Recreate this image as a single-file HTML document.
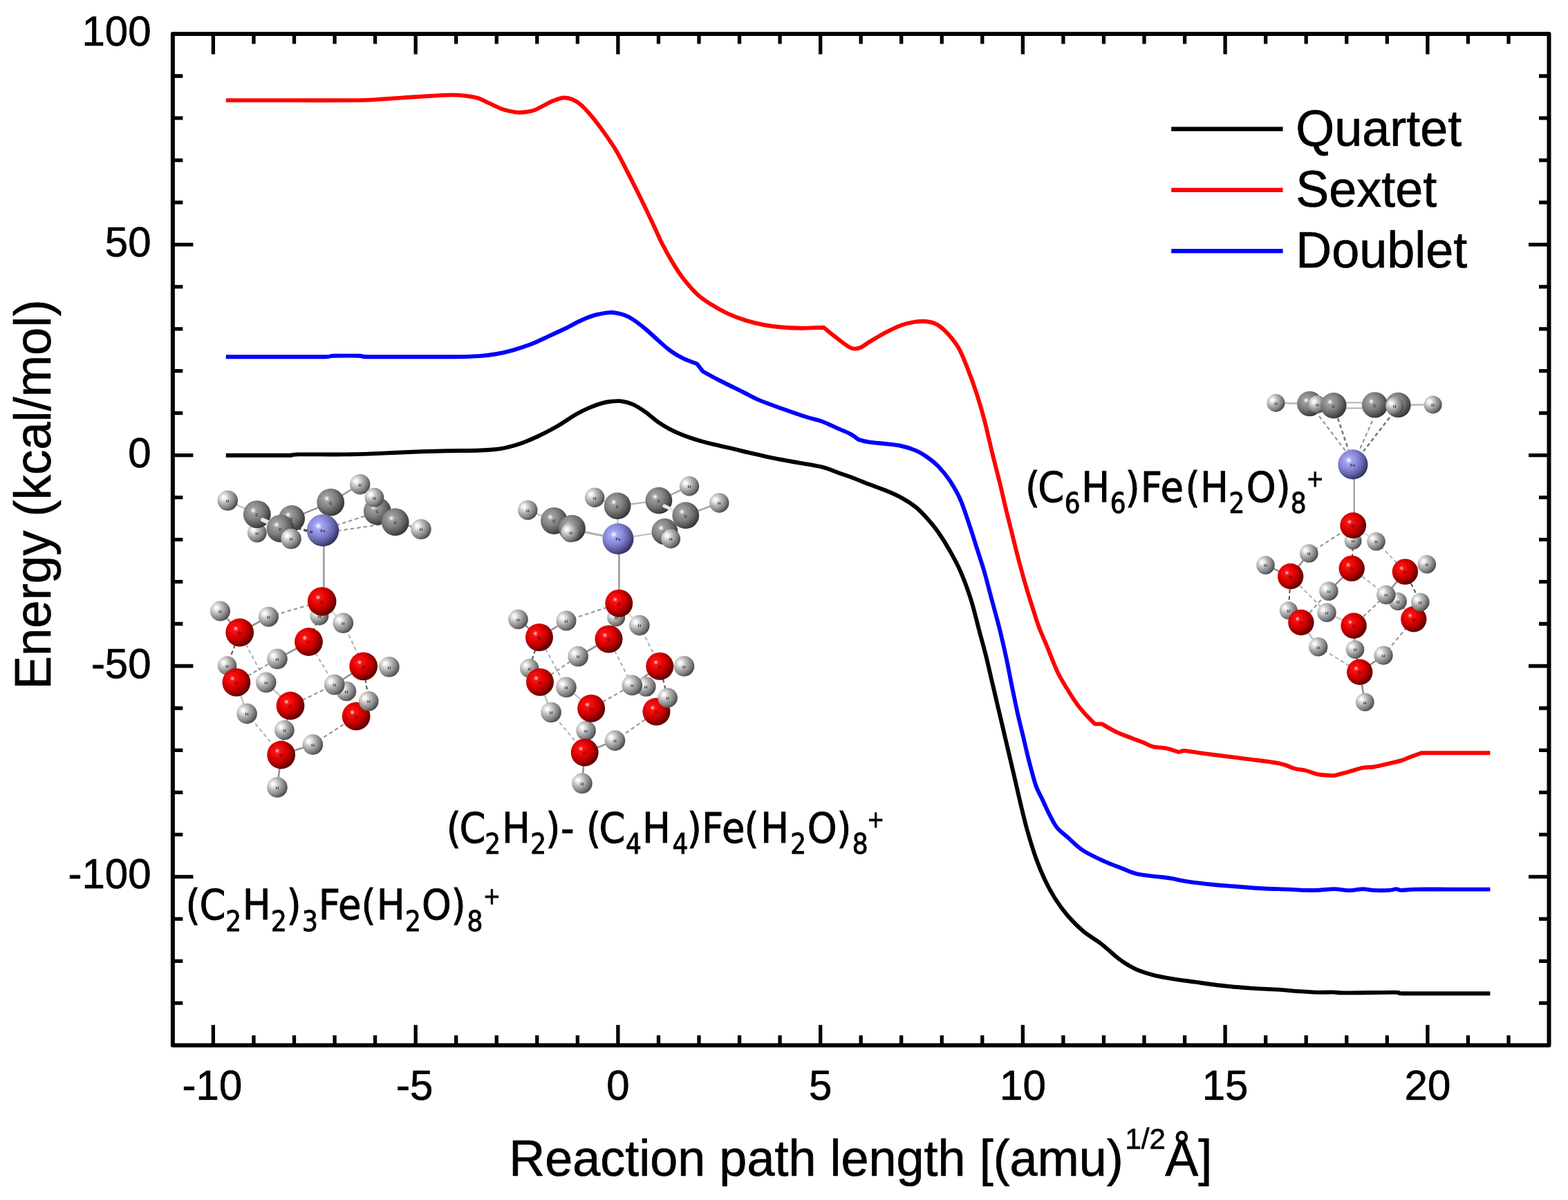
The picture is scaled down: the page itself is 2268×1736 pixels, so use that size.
<!DOCTYPE html>
<html lang="en"><head><meta charset="utf-8"><title>Reaction path energy profile</title>
<style>html,body{margin:0;padding:0;background:#fff}body{width:2268px;height:1736px;overflow:hidden}svg{display:block}text{font-family:"Liberation Sans",sans-serif;fill:#000}.tk,.ti,.lg{stroke:#000;stroke-width:.7px;stroke-linejoin:round}.tk{font-size:60px}.ti{font-size:72px}.lg{font-size:72px}.fm{font-family:"DejaVu Sans Condensed","DejaVu Sans","Liberation Sans",sans-serif}.al{font-size:6.2px;font-weight:bold;fill:#151515;text-anchor:middle;opacity:.85}</style></head><body>
<svg width="2268" height="1736" viewBox="0 0 2268 1736">
<defs>
<radialGradient id="gH" cx="0.31" cy="0.34" r="0.72" fx="0.31" fy="0.34"><stop offset="0" stop-color="#fff"/><stop offset="0.1" stop-color="#f8f8f8"/><stop offset="0.28" stop-color="#d2d2d2"/><stop offset="0.5" stop-color="#a9a9a9"/><stop offset="0.75" stop-color="#808080"/><stop offset="1" stop-color="#4a4a4a"/></radialGradient>
<radialGradient id="gC" cx="0.36" cy="0.36" r="0.75" fx="0.36" fy="0.36"><stop offset="0" stop-color="#fff"/><stop offset="0.06" stop-color="#dcdcdc"/><stop offset="0.14" stop-color="#a0a0a0"/><stop offset="0.42" stop-color="#828282"/><stop offset="0.62" stop-color="#646464"/><stop offset="0.82" stop-color="#424242"/><stop offset="1" stop-color="#202020"/></radialGradient>
<radialGradient id="gO" cx="0.36" cy="0.36" r="0.75" fx="0.36" fy="0.36"><stop offset="0" stop-color="#ffe0e0"/><stop offset="0.05" stop-color="#ff8484"/><stop offset="0.12" stop-color="#f81414"/><stop offset="0.4" stop-color="#e20000"/><stop offset="0.6" stop-color="#b00000"/><stop offset="0.8" stop-color="#780000"/><stop offset="1" stop-color="#3a0000"/></radialGradient>
<radialGradient id="gF" cx="0.36" cy="0.36" r="0.75" fx="0.36" fy="0.36"><stop offset="0" stop-color="#fff"/><stop offset="0.06" stop-color="#dcdcff"/><stop offset="0.14" stop-color="#a6a6f8"/><stop offset="0.42" stop-color="#8686d4"/><stop offset="0.62" stop-color="#6666ae"/><stop offset="0.82" stop-color="#404076"/><stop offset="1" stop-color="#1e1e44"/></radialGradient>
<filter id="soft" x="-5%" y="-5%" width="110%" height="110%"><feGaussianBlur stdDeviation="0.75"/></filter>
</defs>
<rect width="2268" height="1736" fill="#fff"/>
<g id="axes" stroke="#000" stroke-width="6.0" fill="none" stroke-linecap="butt">
<rect x="249.9" y="49" width="1990.6" height="1463.2" stroke-linejoin="round"/>
<path d="M308.4 49v29.5M308.4 1512.2v-29.5M367 49v14.5M367 1512.2v-14.5M425.5 49v14.5M425.5 1512.2v-14.5M484.1 49v14.5M484.1 1512.2v-14.5M542.6 49v14.5M542.6 1512.2v-14.5M601.2 49v29.5M601.2 1512.2v-29.5M659.7 49v14.5M659.7 1512.2v-14.5M718.3 49v14.5M718.3 1512.2v-14.5M776.8 49v14.5M776.8 1512.2v-14.5M835.4 49v14.5M835.4 1512.2v-14.5M893.9 49v29.5M893.9 1512.2v-29.5M952.5 49v14.5M952.5 1512.2v-14.5M1011 49v14.5M1011 1512.2v-14.5M1069.6 49v14.5M1069.6 1512.2v-14.5M1128.1 49v14.5M1128.1 1512.2v-14.5M1186.7 49v29.5M1186.7 1512.2v-29.5M1245.2 49v14.5M1245.2 1512.2v-14.5M1303.7 49v14.5M1303.7 1512.2v-14.5M1362.3 49v14.5M1362.3 1512.2v-14.5M1420.8 49v14.5M1420.8 1512.2v-14.5M1479.4 49v29.5M1479.4 1512.2v-29.5M1537.9 49v14.5M1537.9 1512.2v-14.5M1596.5 49v14.5M1596.5 1512.2v-14.5M1655 49v14.5M1655 1512.2v-14.5M1713.6 49v14.5M1713.6 1512.2v-14.5M1772.1 49v29.5M1772.1 1512.2v-29.5M1830.7 49v14.5M1830.7 1512.2v-14.5M1889.2 49v14.5M1889.2 1512.2v-14.5M1947.8 49v14.5M1947.8 1512.2v-14.5M2006.3 49v14.5M2006.3 1512.2v-14.5M2064.9 49v29.5M2064.9 1512.2v-29.5M2123.4 49v14.5M2123.4 1512.2v-14.5M2182 49v14.5M2182 1512.2v-14.5M249.9 1451.2h14.5M2240.5 1451.2h-14.5M249.9 1390.3h14.5M2240.5 1390.3h-14.5M249.9 1329.3h14.5M2240.5 1329.3h-14.5M249.9 1268.3h29.5M2240.5 1268.3h-29.5M249.9 1207.4h14.5M2240.5 1207.4h-14.5M249.9 1146.4h14.5M2240.5 1146.4h-14.5M249.9 1085.4h14.5M2240.5 1085.4h-14.5M249.9 1024.5h14.5M2240.5 1024.5h-14.5M249.9 963.5h29.5M2240.5 963.5h-29.5M249.9 902.5h14.5M2240.5 902.5h-14.5M249.9 841.6h14.5M2240.5 841.6h-14.5M249.9 780.6h14.5M2240.5 780.6h-14.5M249.9 719.6h14.5M2240.5 719.6h-14.5M249.9 658.7h29.5M2240.5 658.7h-29.5M249.9 597.7h14.5M2240.5 597.7h-14.5M249.9 536.7h14.5M2240.5 536.7h-14.5M249.9 475.8h14.5M2240.5 475.8h-14.5M249.9 414.8h14.5M2240.5 414.8h-14.5M249.9 353.8h29.5M2240.5 353.8h-29.5M249.9 292.9h14.5M2240.5 292.9h-14.5M249.9 231.9h14.5M2240.5 231.9h-14.5M249.9 170.9h14.5M2240.5 170.9h-14.5M249.9 110h14.5M2240.5 110h-14.5" stroke-width="5.3"/>
</g>
<g id="yticks" class="tk" text-anchor="end">
<text transform="translate(218.6 66.1) scale(1 1.02)">100</text>
<text transform="translate(218.6 370.9) scale(1 1.02)">50</text>
<text transform="translate(218.6 675.8) scale(1 1.02)">0</text>
<text transform="translate(218.6 980.6) scale(1 1.02)">-50</text>
<text transform="translate(218.6 1285.4) scale(1 1.02)">-100</text>
</g>
<g id="xticks" class="tk" text-anchor="middle">
<text transform="translate(306.9 1590.6) scale(1 1.02)">-10</text>
<text transform="translate(599.7 1590.6) scale(1 1.02)">-5</text>
<text transform="translate(893.9 1590.6) scale(1 1.02)">0</text>
<text transform="translate(1186.7 1590.6) scale(1 1.02)">5</text>
<text transform="translate(1479.4 1590.6) scale(1 1.02)">10</text>
<text transform="translate(1772.1 1590.6) scale(1 1.02)">15</text>
<text transform="translate(2064.9 1590.6) scale(1 1.02)">20</text>
</g>
<text class="ti" id="xtitle" transform="translate(736.2 1701.2) scale(1 1.02)">Reaction path length [(amu)<tspan style="font-size:42px" dy="-38" dx="2.8">1/2</tspan><tspan dy="38" dx="-0.5">Å]</tspan></text>
<text class="ti" id="ytitle" style="font-size:72.5px" transform="translate(73.2 997.3) rotate(-90) scale(1 1.02)">Energy (kcal/mol)</text>
<g id="curves" fill="none" stroke-width="5.9" stroke-linejoin="round" stroke-linecap="butt">
<path id="quartet" stroke="#000" d="M326.8 658.7C335.7 658.7 364.7 658.7 380 658.7C395.3 658.7 410 658.9 418.5 658.7C427 658.5 417.5 657.6 431.2 657.4C444.9 657.2 479.9 657.7 500.5 657.4C521.1 657.1 536.9 656.3 555.1 655.6C573.3 654.9 594.6 653.8 609.8 653.3C625 652.8 632 652.6 646.2 652.3C660.4 652 682.1 652 695 651.5C707.9 651 714.4 650.7 723.8 649.2C733.1 647.7 742 645.3 751.1 642.3C760.2 639.3 769.4 635.2 778.5 631C787.6 626.8 796.7 622 805.8 616.8C814.9 611.5 825.5 603.9 833.1 599.5C840.7 595.1 845.2 593 851.3 590.4C857.4 587.8 864.1 585.2 869.6 583.6C875.1 582 879.2 581.2 884.1 580.7C889 580.2 893.5 579.7 898.7 580.4C903.9 581.1 909.3 582.3 915.1 584.9C920.9 587.5 927.2 591.6 933.3 595.9C939.4 600.1 945.5 606.1 951.6 610.4C957.7 614.6 963.7 618.2 969.8 621.4C975.9 624.6 981.9 627.2 988 629.6C994.1 632 998.6 633.6 1006.2 635.9C1013.8 638.2 1024.6 641 1033.6 643.2C1042.6 645.4 1053 647.6 1060 649.2C1067 650.8 1065.2 650.7 1075.3 653C1085.4 655.3 1107.5 660.5 1120.8 663.2C1134.1 665.9 1143.6 667.3 1155 669.4C1166.4 671.5 1179.7 673.3 1189.2 675.7C1198.7 678.1 1204.4 681 1212 683.7C1219.6 686.4 1227.1 688.9 1234.7 691.7C1242.3 694.6 1249.9 697.9 1257.5 700.8C1265.1 703.7 1272.5 706 1280.3 709.3C1288.1 712.5 1297 716.2 1304.4 720.3C1311.8 724.4 1318.8 728.9 1324.9 733.9C1331.1 738.9 1335.8 744.1 1341.3 750.3C1346.8 756.4 1352.2 762.9 1357.7 770.8C1363.2 778.7 1369 788.1 1374.3 797.5C1379.6 806.9 1384.5 815.5 1389.6 827.3C1394.7 839.1 1400.4 854.6 1404.7 868.3C1409 882 1412 895.6 1415.6 909.3C1419.2 923 1423.1 936.6 1426.5 950.3C1429.9 964 1432.5 976.2 1436.1 991.3C1439.6 1006.4 1444.2 1025.9 1447.8 1041C1451.3 1056.1 1454.2 1068.3 1457.4 1082C1460.6 1095.7 1463.8 1109.3 1467 1123C1470.2 1136.7 1473.3 1150.9 1476.5 1164C1479.7 1177.1 1482.3 1188.8 1486 1201.8C1489.7 1214.8 1494.5 1230.5 1498.7 1242.3C1502.9 1254.1 1506.7 1263 1511.3 1272.7C1515.9 1282.4 1521 1291.9 1526.5 1300.5C1532 1309.1 1537.5 1316.7 1544.2 1324.5C1551 1332.3 1559 1340.5 1567 1347.3C1575 1354 1583.9 1358.5 1592.3 1365C1600.7 1371.5 1610.8 1381.2 1617.6 1386.5C1624.3 1391.8 1627.7 1393.7 1632.8 1396.7C1637.9 1399.7 1642.1 1402 1648 1404.3C1653.9 1406.6 1660.6 1408.7 1668.2 1410.6C1675.8 1412.5 1683.4 1413.9 1693.5 1415.6C1703.6 1417.3 1716.7 1419 1728.9 1420.7C1741.1 1422.4 1753.4 1424.3 1766.9 1425.8C1780.4 1427.3 1795.1 1428.5 1809.9 1429.6C1824.7 1430.6 1844.6 1431.4 1855.5 1432.1C1866.4 1432.8 1866.9 1433.3 1875.3 1433.9C1883.7 1434.5 1896.8 1435.3 1905.7 1435.6C1914.6 1435.8 1921.7 1435.3 1928.4 1435.4C1935.2 1435.5 1931.4 1436.4 1946.2 1436.4C1961 1436.4 2003.1 1435.5 2017 1435.6C2030.9 1435.7 2015.9 1436.9 2029.7 1437.2C2043.5 1437.5 2079.1 1437.2 2100 1437.2C2120.9 1437.2 2146.2 1437.2 2155.4 1437.2"/>
<path id="doublet" stroke="#0000ff" d="M326.8 516.2C339 516.2 376.2 516.2 400 516.2C423.8 516.2 455.8 516.4 469.5 516.2C483.2 516 474 515 482.2 514.8C490.4 514.6 510.2 514.6 518.7 514.8C527.2 515 519.8 516 533.3 516.2C546.8 516.4 579.7 516.2 600 516.2C620.3 516.2 639.8 516.4 655.3 516.2C670.8 516 682.3 515.8 692.8 515.1C703.3 514.4 710.1 513.4 718.3 512C726.5 510.6 733.5 509 742 506.6C750.5 504.2 761.7 500.3 769.3 497.4C776.9 494.5 780 492.7 787.6 489.2C795.2 485.7 805.8 480.9 814.9 476.5C824 472.1 834.6 466.2 842.2 462.8C849.8 459.4 854.4 457.6 860.5 455.9C866.6 454.2 874.2 453 878.7 452.4C883.2 451.8 883.8 451.8 887.8 452.3C891.8 452.8 897.8 453.9 902.4 455.5C907 457.1 910 458.5 915.1 461.9C920.2 465.2 927.2 470.6 933.3 475.6C939.4 480.6 945.5 486.7 951.6 492C957.7 497.3 963.7 503.1 969.8 507.5C975.9 511.9 981.6 515.3 988 518.4C994.4 521.5 1008.1 526.3 1008.1 526.3C1008.1 526.3 1016.6 537.2 1016.6 537.2C1016.6 537.2 1031.3 545.5 1041.1 550.5C1050.9 555.5 1065.8 562.8 1075.3 567.5C1084.8 572.2 1088.6 574.9 1098.1 578.9C1107.6 582.9 1120.8 587.4 1132.2 591.5C1143.6 595.6 1156.9 600.3 1166.4 603.3C1175.9 606.3 1181.6 606.9 1189.2 609.7C1196.8 612.5 1205.2 616.9 1212 619.9C1218.8 622.9 1225.3 625.2 1230.2 627.9C1235.1 630.6 1241.6 635.9 1241.6 635.9C1241.6 635.9 1251 638.7 1257.5 639.7C1264 640.7 1272.7 641.1 1280.3 642C1287.9 642.9 1295.7 643.4 1303.1 645C1310.5 646.6 1318.5 649.1 1324.9 651.9C1331.3 654.6 1335.8 657.6 1341.3 661.5C1346.8 665.4 1352.2 669.5 1357.7 675.2C1363.2 680.9 1368.8 687.7 1374.1 695.7C1379.3 703.7 1384.4 712.1 1389.2 723C1394 733.9 1398.9 749.9 1402.8 761.3C1406.7 772.7 1408.9 780.3 1412.4 791.3C1415.9 802.3 1420.1 814.5 1423.8 827.3C1427.5 840.1 1431 854.6 1434.7 868.3C1438.4 882 1442.3 895.6 1445.7 909.3C1449.1 923 1452.2 936.6 1455.2 950.3C1458.2 964 1460.5 977.3 1463.4 991.3C1466.3 1005.3 1469.5 1021.4 1472.4 1034.2C1475.3 1047 1477.9 1056.9 1480.6 1068.3C1483.3 1079.7 1485.8 1091.1 1488.8 1102.5C1491.8 1113.9 1495.2 1127.6 1498.4 1136.7C1501.6 1145.8 1505 1150.8 1508 1157.2C1511 1163.6 1512.8 1168.3 1516.2 1174.9C1519.6 1181.5 1524 1190.9 1528.5 1196.8C1533 1202.7 1537.2 1205 1543.5 1210.5C1549.8 1216 1557.2 1224.2 1566.2 1230.1C1575.2 1236 1588 1241.8 1597.4 1246.1C1606.8 1250.4 1615.1 1253.2 1622.7 1256.2C1630.3 1259.2 1635.3 1261.9 1642.9 1263.8C1650.5 1265.7 1659.8 1266.5 1668.2 1267.6C1676.6 1268.7 1685.5 1269.3 1693.5 1270.6C1701.5 1271.9 1706.2 1273.7 1716.3 1275.2C1726.4 1276.7 1741.6 1278.5 1754.3 1279.8C1767 1281.1 1780.4 1281.9 1792.2 1282.8C1804 1283.7 1813.3 1284.7 1825.1 1285.3C1836.9 1285.9 1852.6 1286.2 1863.1 1286.6C1873.6 1287 1880.9 1287.7 1888 1287.9C1895.1 1288.1 1898.8 1288.2 1905.7 1287.9C1912.7 1287.6 1923 1286.1 1929.7 1286.1C1936.5 1286.1 1941.8 1287.6 1946.2 1287.9C1950.6 1288.2 1952.1 1288.2 1956.3 1287.9C1960.5 1287.6 1966.5 1286.1 1971.5 1286.1C1976.5 1286.1 1980.3 1287.6 1986.6 1287.9C1992.9 1288.2 2003.9 1288.2 2009.4 1287.9C2014.9 1287.6 2016.5 1286.1 2019.5 1286.1C2022.5 1286.1 2022.4 1287.8 2027.1 1287.9C2031.8 1288 2035.2 1286.8 2047.4 1286.6C2059.6 1286.4 2082 1286.6 2100 1286.6C2118 1286.6 2146.2 1286.6 2155.4 1286.6"/>
<path id="sextet" stroke="#ff0000" d="M326.8 145.1C342.3 145.1 388 145.1 420 145.1C452 145.1 496.5 145.4 519 145.1C541.5 144.8 543 143.9 555 143.2C567 142.5 579 141.6 591 140.8C603 140 616.4 139.2 627 138.6C637.6 138 647.1 137.4 654.7 137.4C662.4 137.4 666.8 137.8 672.9 138.6C679 139.3 685 140 691.1 141.9C697.2 143.8 703.2 147.4 709.3 150.1C715.4 152.8 721.5 156.3 727.6 158.3C733.7 160.3 740.6 161.6 745.8 162.3C750.9 163 754 162.8 758.5 162.3C763 161.8 767.6 161.2 773.1 159.2C778.6 157.2 786.7 152.4 791.3 150.1C795.9 147.8 796.5 147 800.5 145.6C804.5 144.2 810.5 141.8 815 141.5C819.5 141.2 823.5 142 827.8 143.7C832 145.4 836 147.9 840.5 151.9C845 155.9 849.6 160.9 855.1 167.4C860.6 173.9 867.2 182.6 873.3 191.1C879.4 199.6 885.5 208.2 891.6 218.5C897.7 228.8 903.7 241.3 909.8 253.1C915.9 264.9 921.9 277.1 928 289.5C934.1 301.9 941.4 317.5 946.3 327.8C951.2 338.1 952.8 342.9 957.2 351.5C961.6 360.1 967.5 370.9 972.8 379.6C978 388.3 982.6 395.7 988.7 403.5C994.8 411.3 1002.4 420 1009.2 426.3C1016 432.6 1022.5 436.6 1029.7 441.1C1036.9 445.7 1044.2 449.8 1052.5 453.6C1060.8 457.4 1071.1 461.2 1079.8 463.9C1088.5 466.6 1096.2 468.4 1104.9 470C1113.6 471.6 1123.1 472.7 1132.2 473.5C1141.3 474.3 1152 474.7 1159.6 474.8C1167.2 474.9 1172.5 474.3 1177.8 474.1C1183.1 473.9 1191.5 473.7 1191.5 473.7C1191.5 473.7 1201 481.8 1207.4 486.7C1213.9 491.6 1224.1 500.4 1230.2 503.1C1236.3 505.8 1239.2 504.5 1243.8 503.1C1248.3 501.7 1251.4 498.2 1257.5 494.6C1263.6 491 1272.7 485.4 1280.3 481.4C1287.9 477.4 1295.9 473.3 1303.1 470.7C1310.3 468.1 1317.5 466.6 1323.6 465.7C1329.7 464.8 1334.2 464.4 1339.5 465C1344.8 465.6 1350.2 466.6 1355.5 469.6C1360.8 472.7 1366.1 477.4 1371.4 483.3C1376.7 489.2 1382.5 496 1387.4 504.9C1392.3 513.8 1396.8 526.2 1401 536.8C1405.2 547.4 1408.6 556.9 1412.4 568.7C1416.2 580.5 1420 593 1423.8 607.4C1427.6 621.8 1431.4 639.8 1435.2 655.2C1439 670.6 1443.3 686.8 1446.5 700C1449.7 713.2 1451.6 722.1 1454.5 734.2C1457.4 746.4 1461 760.4 1464.1 772.9C1467.2 785.4 1469.8 796.4 1473.2 809.3C1476.6 822.2 1480.8 837.4 1484.6 850.3C1488.4 863.2 1493 877.3 1496 886.8C1499 896.3 1499.8 899.3 1502.8 907.3C1505.8 915.3 1509.6 923.6 1514.2 934.6C1518.8 945.6 1524.9 962.3 1530.2 973.3C1535.5 984.3 1541.2 992.7 1546.1 1000.7C1551 1008.7 1555.2 1015.1 1559.8 1021.2C1564.4 1027.3 1569.5 1032.7 1573.5 1037.1C1577.5 1041.5 1583.7 1047.4 1583.7 1047.4C1583.7 1047.4 1594 1047.4 1594 1047.4C1594 1047.4 1607.3 1055.4 1614.5 1058.8C1621.7 1062.2 1630.4 1065.2 1637.2 1067.9C1644 1070.6 1650.3 1072.9 1655.5 1075C1660.7 1077.1 1663.1 1079.2 1668.2 1080.4C1673.3 1081.6 1679.8 1081.1 1685.9 1082.4C1692 1083.7 1704.9 1088 1704.9 1088C1704.9 1088 1712.5 1085.9 1712.5 1085.9C1712.5 1085.9 1738.9 1089.8 1754.3 1091.8C1769.7 1093.8 1788.9 1096 1804.9 1098.1C1820.9 1100.2 1839 1102.1 1850.4 1104.4C1861.8 1106.7 1866.9 1110.3 1873.2 1112C1879.5 1113.7 1882.6 1113.2 1888 1114.5C1893.4 1115.8 1898.8 1118.8 1905.7 1120.1C1912.7 1121.4 1929.7 1122.1 1929.7 1122.1C1929.7 1122.1 1941.7 1119 1948.7 1117.1C1955.7 1115.2 1965.2 1112 1971.5 1110.7C1977.8 1109.4 1980.3 1110.5 1986.6 1109.5C1992.9 1108.5 2002.7 1106 2009.4 1104.4C2016.2 1102.8 2021.6 1101.8 2027.1 1100.1C2032.6 1098.4 2037.5 1096.1 2042.3 1094.3C2047.1 1092.5 2056.2 1089.2 2056.2 1089.2C2056.2 1089.2 2083.5 1089.2 2100 1089.2C2116.5 1089.2 2146.2 1089.2 2155.4 1089.2"/>
</g>
<g id="legend" stroke-width="6.3">
<line x1="1694.2" x2="1855.6" y1="186.7" y2="186.7" stroke="#000"/>
<text class="lg" transform="translate(1874.2 211.2) scale(1 1.02)">Quartet</text>
<line x1="1694.2" x2="1855.6" y1="274.9" y2="274.9" stroke="#ff0000"/>
<text class="lg" transform="translate(1874.2 299.2) scale(1 1.02)">Sextet</text>
<line x1="1694.2" x2="1855.6" y1="363.2" y2="363.2" stroke="#0000ff"/>
<text class="lg" transform="translate(1874.2 387.3) scale(1 1.02)">Doublet</text>
</g>
<g id="mol1" filter="url(#soft)">
<line x1="468.4" y1="767" x2="468.4" y2="870" stroke="#a0a0a0" stroke-width="2.7" stroke-linecap="round"/>
<line x1="486" y1="760" x2="548" y2="740" stroke="#949494" stroke-width="2.1" stroke-dasharray="5.5 4"/>
<line x1="488" y1="768" x2="570" y2="756" stroke="#949494" stroke-width="2.1" stroke-dasharray="5.5 4"/>
<circle cx="371.8" cy="770.8" r="13.9" fill="url(#gH)"/>
<text class="al" x="371.8" y="773.6">H</text>
<line x1="422" y1="750" x2="478" y2="727" stroke="#8a8a8a" stroke-width="2.2" stroke-linecap="round"/>
<circle cx="422" cy="750" r="19" fill="url(#gC)"/>
<text class="al" x="422" y="752.8">C</text>
<line x1="329.3" y1="724.1" x2="371.8" y2="744" stroke="#c8c8c8" stroke-width="2.6" stroke-linecap="round"/>
<circle cx="329.3" cy="724.1" r="14.7" fill="url(#gH)"/>
<text class="al" x="329.3" y="726.9">H</text>
<circle cx="371.8" cy="744" r="19.9" fill="url(#gC)"/>
<text class="al" x="371.8" y="746.8">C</text>
<line x1="478.2" y1="726.7" x2="520.7" y2="700.7" stroke="#9a9a9a" stroke-width="2.6" stroke-linecap="round"/>
<circle cx="478.2" cy="726.7" r="19.9" fill="url(#gC)"/>
<text class="al" x="478.2" y="729.5">C</text>
<circle cx="520.7" cy="700.7" r="14.7" fill="url(#gH)"/>
<text class="al" x="520.7" y="703.5">H</text>
<circle cx="545.8" cy="739.6" r="19.9" fill="url(#gC)"/>
<text class="al" x="545.8" y="742.4">C</text>
<circle cx="541.4" cy="719.7" r="13.9" fill="url(#gH)"/>
<text class="al" x="541.4" y="722.5">H</text>
<line x1="571.7" y1="755.2" x2="609" y2="765.6" stroke="#9a9a9a" stroke-width="2.6" stroke-linecap="round"/>
<circle cx="571.7" cy="755.2" r="19.9" fill="url(#gC)"/>
<text class="al" x="571.7" y="758">C</text>
<circle cx="609" cy="765.6" r="14.7" fill="url(#gH)"/>
<text class="al" x="609" y="768.4">H</text>
<line x1="380" y1="752" x2="402" y2="762" stroke="#e8e8e8" stroke-width="6.0" stroke-linecap="round"/>
<circle cx="405.5" cy="764.7" r="19.9" fill="url(#gC)"/>
<text class="al" x="405.5" y="767.5">C</text>
<circle cx="467" cy="767.3" r="23.2" fill="url(#gF)"/>
<text class="al" x="467" y="770.1">Fe</text>
<line x1="430" y1="764" x2="452" y2="770" stroke="#444" stroke-width="3" stroke-dasharray="5.5 4"/>
<circle cx="421.1" cy="779.5" r="14.7" fill="url(#gH)"/>
<text class="al" x="421.1" y="782.3">H</text>
<line x1="388.4" y1="892.2" x2="465.7" y2="870" stroke="#949494" stroke-width="2.1" stroke-dasharray="5.5 4"/>
<line x1="346.7" y1="915" x2="328.6" y2="962.9" stroke="#555" stroke-width="2.1" stroke-dasharray="5.5 4"/>
<line x1="346.7" y1="915" x2="384.8" y2="987.2" stroke="#b0b0b0" stroke-width="2.1" stroke-dasharray="5.5 4"/>
<line x1="341.9" y1="987.2" x2="401" y2="953.3" stroke="#949494" stroke-width="2.1" stroke-dasharray="5.5 4"/>
<line x1="446.5" y1="928.5" x2="483.8" y2="990.5" stroke="#b0b0b0" stroke-width="2.1" stroke-dasharray="5.5 4"/>
<line x1="496.3" y1="901.2" x2="525.7" y2="963.8" stroke="#b0b0b0" stroke-width="2.1" stroke-dasharray="5.5 4"/>
<line x1="525.7" y1="963.8" x2="533.3" y2="1014.3" stroke="#555" stroke-width="2.1" stroke-dasharray="5.5 4"/>
<line x1="420" y1="1021" x2="483.8" y2="990.5" stroke="#949494" stroke-width="2.1" stroke-dasharray="5.5 4"/>
<line x1="357.1" y1="1032.4" x2="406.7" y2="1092" stroke="#b0b0b0" stroke-width="2.1" stroke-dasharray="5.5 4"/>
<line x1="452.4" y1="1077.1" x2="515.2" y2="1036.2" stroke="#949494" stroke-width="2.1" stroke-dasharray="5.5 4"/>
<line x1="411.4" y1="1056.2" x2="406.7" y2="1092" stroke="#555" stroke-width="2.1" stroke-dasharray="5.5 4"/>
<line x1="461.9" y1="891" x2="446.5" y2="928.5" stroke="#555" stroke-width="2.1" stroke-dasharray="5.5 4"/>
<line x1="501" y1="1000" x2="515.2" y2="1036.2" stroke="#b0b0b0" stroke-width="2.1" stroke-dasharray="5.5 4"/>
<line x1="346.7" y1="915" x2="318.5" y2="884" stroke="#8e9292" stroke-width="2.6" stroke-linecap="round"/>
<line x1="346.7" y1="915" x2="388.4" y2="892.2" stroke="#8e9292" stroke-width="2.6" stroke-linecap="round"/>
<line x1="465.7" y1="870" x2="461.9" y2="891" stroke="#8e9292" stroke-width="2.6" stroke-linecap="round"/>
<line x1="465.7" y1="870" x2="496.3" y2="901.2" stroke="#d8d8d8" stroke-width="2.6" stroke-linecap="round"/>
<line x1="446.5" y1="928.5" x2="401" y2="953.3" stroke="#8e9292" stroke-width="2.6" stroke-linecap="round"/>
<line x1="525.7" y1="963.8" x2="562.9" y2="964.8" stroke="#e8e8e8" stroke-width="5" stroke-linecap="round"/>
<line x1="525.7" y1="963.8" x2="483.8" y2="990.5" stroke="#8e9292" stroke-width="2.6" stroke-linecap="round"/>
<line x1="341.9" y1="987.2" x2="357.1" y2="1032.4" stroke="#c0c0c0" stroke-width="2.6" stroke-linecap="round"/>
<line x1="420" y1="1021" x2="384.8" y2="987.2" stroke="#c8c8c8" stroke-width="2.6" stroke-linecap="round"/>
<line x1="420" y1="1021" x2="411.4" y2="1056.2" stroke="#8e9292" stroke-width="2.6" stroke-linecap="round"/>
<line x1="406.7" y1="1092" x2="452.4" y2="1077.1" stroke="#8e9292" stroke-width="2.6" stroke-linecap="round"/>
<line x1="406.7" y1="1092" x2="401" y2="1139" stroke="#8e9292" stroke-width="2.6" stroke-linecap="round"/>
<circle cx="461.9" cy="891" r="13.5" fill="url(#gH)"/>
<text class="al" x="461.9" y="893.8">H</text>
<circle cx="328.6" cy="962.9" r="13.7" fill="url(#gH)"/>
<text class="al" x="328.6" y="965.7">H</text>
<circle cx="501" cy="1000" r="14.3" fill="url(#gH)"/>
<text class="al" x="501" y="1002.8">H</text>
<circle cx="318.5" cy="884" r="14.5" fill="url(#gH)"/>
<text class="al" x="318.5" y="886.8">H</text>
<circle cx="388.4" cy="892.2" r="14.5" fill="url(#gH)"/>
<text class="al" x="388.4" y="895">H</text>
<circle cx="496.3" cy="901.2" r="14.8" fill="url(#gH)"/>
<text class="al" x="496.3" y="904">H</text>
<circle cx="401" cy="953.3" r="14.8" fill="url(#gH)"/>
<text class="al" x="401" y="956.1">H</text>
<circle cx="562.9" cy="964.8" r="14.8" fill="url(#gH)"/>
<text class="al" x="562.9" y="967.6">H</text>
<circle cx="384.8" cy="987.2" r="14.8" fill="url(#gH)"/>
<text class="al" x="384.8" y="990">H</text>
<circle cx="483.8" cy="990.5" r="14.8" fill="url(#gH)"/>
<text class="al" x="483.8" y="993.3">H</text>
<circle cx="357.1" cy="1032.4" r="14.8" fill="url(#gH)"/>
<text class="al" x="357.1" y="1035.2">H</text>
<circle cx="411.4" cy="1056.2" r="14.3" fill="url(#gH)"/>
<text class="al" x="411.4" y="1059">H</text>
<circle cx="452.4" cy="1077.1" r="14.8" fill="url(#gH)"/>
<text class="al" x="452.4" y="1079.9">H</text>
<circle cx="401" cy="1139" r="14.8" fill="url(#gH)"/>
<text class="al" x="401" y="1141.8">H</text>
<circle cx="465.7" cy="870" r="20.8" fill="url(#gO)"/>
<text class="al" x="465.7" y="872.8">O</text>
<circle cx="346.7" cy="915" r="20.4" fill="url(#gO)"/>
<text class="al" x="346.7" y="917.8">O</text>
<circle cx="446.5" cy="928.5" r="20.4" fill="url(#gO)"/>
<text class="al" x="446.5" y="931.3">O</text>
<circle cx="525.7" cy="963.8" r="20.4" fill="url(#gO)"/>
<text class="al" x="525.7" y="966.6">O</text>
<circle cx="341.9" cy="987.2" r="20.4" fill="url(#gO)"/>
<text class="al" x="341.9" y="990">O</text>
<circle cx="420" cy="1021" r="20.4" fill="url(#gO)"/>
<text class="al" x="420" y="1023.8">O</text>
<circle cx="515.2" cy="1036.2" r="20.4" fill="url(#gO)"/>
<text class="al" x="515.2" y="1039">O</text>
<circle cx="406.7" cy="1092" r="20.4" fill="url(#gO)"/>
<text class="al" x="406.7" y="1094.8">O</text>
<circle cx="533.3" cy="1014.3" r="14.3" fill="url(#gH)"/>
<text class="al" x="533.3" y="1017.1">H</text>
</g>
<g id="mol2" filter="url(#soft)">
<line x1="895.5" y1="780" x2="895.5" y2="872" stroke="#a0a0a0" stroke-width="2.7" stroke-linecap="round"/>
<line x1="763.3" y1="737.9" x2="801.4" y2="753.5" stroke="#c8c8c8" stroke-width="2.6" stroke-linecap="round"/>
<circle cx="763.3" cy="737.9" r="14.2" fill="url(#gH)"/>
<text class="al" x="763.3" y="740.7">H</text>
<circle cx="801.4" cy="753.5" r="19.4" fill="url(#gC)"/>
<text class="al" x="801.4" y="756.3">C</text>
<line x1="827.5" y1="766" x2="894" y2="779.5" stroke="#b0b0b0" stroke-width="3.0" stroke-linecap="round"/>
<circle cx="827.5" cy="764.5" r="19.4" fill="url(#gC)"/>
<text class="al" x="827.5" y="767.3">C</text>
<circle cx="825.4" cy="770.5" r="14" fill="url(#gH)"/>
<text class="al" x="825.4" y="773.3">H</text>
<line x1="860.2" y1="719.7" x2="893.1" y2="731.8" stroke="#c8c8c8" stroke-width="2.6" stroke-linecap="round"/>
<circle cx="860.2" cy="719.7" r="14.2" fill="url(#gH)"/>
<text class="al" x="860.2" y="722.5">H</text>
<line x1="893.1" y1="731.8" x2="952.9" y2="724.1" stroke="#b4b4b4" stroke-width="2.4" stroke-linecap="round"/>
<line x1="893.1" y1="731.8" x2="894" y2="779.5" stroke="#c0c0c0" stroke-width="2.4" stroke-linecap="round"/>
<circle cx="893.1" cy="731.8" r="19.4" fill="url(#gC)"/>
<text class="al" x="893.1" y="734.6">C</text>
<line x1="952.9" y1="724.1" x2="997" y2="703.3" stroke="#a8a8a8" stroke-width="2.6" stroke-linecap="round"/>
<circle cx="952.9" cy="724.1" r="19.4" fill="url(#gC)"/>
<text class="al" x="952.9" y="726.9">C</text>
<circle cx="997" cy="703.3" r="14.2" fill="url(#gH)"/>
<text class="al" x="997" y="706.1">H</text>
<line x1="991.8" y1="745.7" x2="1040.3" y2="727.5" stroke="#a8a8a8" stroke-width="2.6" stroke-linecap="round"/>
<line x1="961" y1="732" x2="980" y2="741" stroke="#e8e8e8" stroke-width="5.1" stroke-linecap="round"/>
<circle cx="991.8" cy="745.7" r="19.4" fill="url(#gC)"/>
<text class="al" x="991.8" y="748.5">C</text>
<circle cx="1040.3" cy="727.5" r="14.2" fill="url(#gH)"/>
<text class="al" x="1040.3" y="730.3">H</text>
<line x1="894" y1="779.5" x2="961.5" y2="769.1" stroke="#c4c4c4" stroke-width="2.4" stroke-linecap="round"/>
<circle cx="961.5" cy="769.1" r="19" fill="url(#gC)"/>
<text class="al" x="961.5" y="771.9">C</text>
<circle cx="970.2" cy="779.5" r="13.9" fill="url(#gH)"/>
<text class="al" x="970.2" y="782.3">H</text>
<circle cx="894" cy="779.5" r="22.5" fill="url(#gF)"/>
<text class="al" x="894" y="782.3">Fe</text>
<line x1="819" y1="898.1" x2="895.3" y2="872.8" stroke="#949494" stroke-width="2.1" stroke-dasharray="5.5 4"/>
<line x1="780" y1="922" x2="765.7" y2="966.7" stroke="#555" stroke-width="2.1" stroke-dasharray="5.5 4"/>
<line x1="780" y1="922" x2="819" y2="994.3" stroke="#b0b0b0" stroke-width="2.1" stroke-dasharray="5.5 4"/>
<line x1="781" y1="986.7" x2="836.2" y2="949.5" stroke="#949494" stroke-width="2.1" stroke-dasharray="5.5 4"/>
<line x1="880.5" y1="924.5" x2="914.3" y2="991.4" stroke="#b0b0b0" stroke-width="2.1" stroke-dasharray="5.5 4"/>
<line x1="924.9" y1="904.6" x2="954.3" y2="963.8" stroke="#b0b0b0" stroke-width="2.1" stroke-dasharray="5.5 4"/>
<line x1="954.3" y1="963.8" x2="965.7" y2="1009.5" stroke="#555" stroke-width="2.1" stroke-dasharray="5.5 4"/>
<line x1="855.2" y1="1024.8" x2="914.3" y2="991.4" stroke="#949494" stroke-width="2.1" stroke-dasharray="5.5 4"/>
<line x1="797.1" y1="1030.5" x2="845.7" y2="1088.6" stroke="#b0b0b0" stroke-width="2.1" stroke-dasharray="5.5 4"/>
<line x1="889.5" y1="1071.4" x2="949.5" y2="1029.5" stroke="#949494" stroke-width="2.1" stroke-dasharray="5.5 4"/>
<line x1="847.6" y1="1057.1" x2="845.7" y2="1088.6" stroke="#555" stroke-width="2.1" stroke-dasharray="5.5 4"/>
<line x1="891.2" y1="893.4" x2="880.5" y2="924.5" stroke="#555" stroke-width="2.1" stroke-dasharray="5.5 4"/>
<line x1="934.3" y1="993.3" x2="949.5" y2="1029.5" stroke="#b0b0b0" stroke-width="2.1" stroke-dasharray="5.5 4"/>
<line x1="780" y1="922" x2="749.5" y2="896" stroke="#8e9292" stroke-width="2.6" stroke-linecap="round"/>
<line x1="780" y1="922" x2="819" y2="898.1" stroke="#8e9292" stroke-width="2.6" stroke-linecap="round"/>
<line x1="895.3" y1="872.8" x2="891.2" y2="893.4" stroke="#8e9292" stroke-width="2.6" stroke-linecap="round"/>
<line x1="895.3" y1="872.8" x2="924.9" y2="904.6" stroke="#d8d8d8" stroke-width="2.6" stroke-linecap="round"/>
<line x1="880.5" y1="924.5" x2="836.2" y2="949.5" stroke="#8e9292" stroke-width="2.6" stroke-linecap="round"/>
<line x1="954.3" y1="963.8" x2="989.5" y2="963.8" stroke="#e8e8e8" stroke-width="5" stroke-linecap="round"/>
<line x1="954.3" y1="963.8" x2="914.3" y2="991.4" stroke="#8e9292" stroke-width="2.6" stroke-linecap="round"/>
<line x1="781" y1="986.7" x2="797.1" y2="1030.5" stroke="#c0c0c0" stroke-width="2.6" stroke-linecap="round"/>
<line x1="855.2" y1="1024.8" x2="819" y2="994.3" stroke="#c8c8c8" stroke-width="2.6" stroke-linecap="round"/>
<line x1="855.2" y1="1024.8" x2="847.6" y2="1057.1" stroke="#8e9292" stroke-width="2.6" stroke-linecap="round"/>
<line x1="845.7" y1="1088.6" x2="889.5" y2="1071.4" stroke="#8e9292" stroke-width="2.6" stroke-linecap="round"/>
<line x1="845.7" y1="1088.6" x2="841.9" y2="1133.3" stroke="#8e9292" stroke-width="2.6" stroke-linecap="round"/>
<circle cx="891.2" cy="893.4" r="13" fill="url(#gH)"/>
<text class="al" x="891.2" y="896.2">H</text>
<circle cx="765.7" cy="966.7" r="13.7" fill="url(#gH)"/>
<text class="al" x="765.7" y="969.5">H</text>
<circle cx="934.3" cy="993.3" r="14.3" fill="url(#gH)"/>
<text class="al" x="934.3" y="996.1">H</text>
<circle cx="749.5" cy="896" r="14.3" fill="url(#gH)"/>
<text class="al" x="749.5" y="898.8">H</text>
<circle cx="819" cy="898.1" r="14.5" fill="url(#gH)"/>
<text class="al" x="819" y="900.9">H</text>
<circle cx="924.9" cy="904.6" r="14.8" fill="url(#gH)"/>
<text class="al" x="924.9" y="907.4">H</text>
<circle cx="836.2" cy="949.5" r="14.8" fill="url(#gH)"/>
<text class="al" x="836.2" y="952.3">H</text>
<circle cx="989.5" cy="963.8" r="14.8" fill="url(#gH)"/>
<text class="al" x="989.5" y="966.6">H</text>
<circle cx="819" cy="994.3" r="14.8" fill="url(#gH)"/>
<text class="al" x="819" y="997.1">H</text>
<circle cx="914.3" cy="991.4" r="14.8" fill="url(#gH)"/>
<text class="al" x="914.3" y="994.2">H</text>
<circle cx="797.1" cy="1030.5" r="14.8" fill="url(#gH)"/>
<text class="al" x="797.1" y="1033.3">H</text>
<circle cx="847.6" cy="1057.1" r="14.3" fill="url(#gH)"/>
<text class="al" x="847.6" y="1059.9">H</text>
<circle cx="889.5" cy="1071.4" r="14.8" fill="url(#gH)"/>
<text class="al" x="889.5" y="1074.2">H</text>
<circle cx="841.9" cy="1133.3" r="14.8" fill="url(#gH)"/>
<text class="al" x="841.9" y="1136.1">H</text>
<circle cx="895.3" cy="872.8" r="20" fill="url(#gO)"/>
<text class="al" x="895.3" y="875.6">O</text>
<circle cx="780" cy="922" r="20" fill="url(#gO)"/>
<text class="al" x="780" y="924.8">O</text>
<circle cx="880.5" cy="924.5" r="20" fill="url(#gO)"/>
<text class="al" x="880.5" y="927.3">O</text>
<circle cx="954.3" cy="963.8" r="20" fill="url(#gO)"/>
<text class="al" x="954.3" y="966.6">O</text>
<circle cx="781" cy="986.7" r="20" fill="url(#gO)"/>
<text class="al" x="781" y="989.5">O</text>
<circle cx="855.2" cy="1024.8" r="20" fill="url(#gO)"/>
<text class="al" x="855.2" y="1027.6">O</text>
<circle cx="949.5" cy="1029.5" r="20" fill="url(#gO)"/>
<text class="al" x="949.5" y="1032.3">O</text>
<circle cx="845.7" cy="1088.6" r="20" fill="url(#gO)"/>
<text class="al" x="845.7" y="1091.4">O</text>
<circle cx="965.7" cy="1009.5" r="14.3" fill="url(#gH)"/>
<text class="al" x="965.7" y="1012.3">H</text>
</g>
<g id="mol3" filter="url(#soft)">
<line x1="1958.7" y1="672" x2="1958.7" y2="760" stroke="#a0a0a0" stroke-width="2.4" stroke-linecap="round"/>
<line x1="1908" y1="602" x2="1946" y2="652" stroke="#949494" stroke-width="2.1" stroke-dasharray="5.5 4"/>
<line x1="1935" y1="605" x2="1950.5" y2="651" stroke="#7a7a7a" stroke-width="2.6" stroke-dasharray="5.5 4"/>
<line x1="1985" y1="609" x2="1966" y2="652" stroke="#949494" stroke-width="2.1" stroke-dasharray="5.5 4"/>
<line x1="2010" y1="604" x2="1972" y2="653" stroke="#7a7a7a" stroke-width="2.6" stroke-dasharray="5.5 4"/>
<line x1="1845.4" y1="582.9" x2="1894.3" y2="584.1" stroke="#b0b0b0" stroke-width="2.4" stroke-linecap="round"/>
<line x1="1928.9" y1="582.5" x2="1988.6" y2="582.5" stroke="#b0b0b0" stroke-width="2.2" stroke-linecap="round"/>
<line x1="1928.9" y1="590.5" x2="1988.6" y2="590.5" stroke="#b0b0b0" stroke-width="2.2" stroke-linecap="round"/>
<line x1="2022.4" y1="585.9" x2="2072.6" y2="585.4" stroke="#b0b0b0" stroke-width="2.4" stroke-linecap="round"/>
<circle cx="1845.4" cy="582.9" r="13" fill="url(#gH)"/>
<text class="al" x="1845.4" y="585.7">H</text>
<circle cx="1894.3" cy="584.1" r="18.2" fill="url(#gC)"/>
<text class="al" x="1894.3" y="586.9">C</text>
<circle cx="1905.5" cy="585" r="13" fill="url(#gH)"/>
<text class="al" x="1905.5" y="587.8">H</text>
<circle cx="1928.9" cy="586.7" r="18.7" fill="url(#gC)"/>
<text class="al" x="1928.9" y="589.5">C</text>
<circle cx="1988.6" cy="585.9" r="18.7" fill="url(#gC)"/>
<text class="al" x="1988.6" y="588.7">C</text>
<circle cx="2022.4" cy="585.9" r="18.2" fill="url(#gC)"/>
<text class="al" x="2022.4" y="588.7">C</text>
<circle cx="2017.2" cy="587.6" r="13" fill="url(#gH)"/>
<text class="al" x="2017.2" y="590.4">H</text>
<circle cx="2072.6" cy="585.4" r="13" fill="url(#gH)"/>
<text class="al" x="2072.6" y="588.2">H</text>
<circle cx="1956.9" cy="671.9" r="21.6" fill="url(#gF)"/>
<text class="al" x="1956.9" y="674.7">Fe</text>
<line x1="1893.3" y1="800.5" x2="1957.2" y2="760.1" stroke="#949494" stroke-width="2.1" stroke-dasharray="5.5 4"/>
<line x1="1866.7" y1="833.8" x2="1863.8" y2="883.3" stroke="#555" stroke-width="2.1" stroke-dasharray="5.5 4"/>
<line x1="1866.7" y1="833.8" x2="1919" y2="886.2" stroke="#b0b0b0" stroke-width="2.1" stroke-dasharray="5.5 4"/>
<line x1="1881.9" y1="900.5" x2="1921.9" y2="855.3" stroke="#949494" stroke-width="2.1" stroke-dasharray="5.5 4"/>
<line x1="1955.2" y1="822.4" x2="2004.8" y2="860.5" stroke="#b0b0b0" stroke-width="2.1" stroke-dasharray="5.5 4"/>
<line x1="1990.5" y1="783.3" x2="2032.4" y2="827.1" stroke="#b0b0b0" stroke-width="2.1" stroke-dasharray="5.5 4"/>
<line x1="2032.4" y1="827.1" x2="2054.3" y2="871" stroke="#555" stroke-width="2.1" stroke-dasharray="5.5 4"/>
<line x1="1958.1" y1="905.2" x2="2004.8" y2="860.5" stroke="#949494" stroke-width="2.1" stroke-dasharray="5.5 4"/>
<line x1="1906.7" y1="935.7" x2="1966.7" y2="972.3" stroke="#b0b0b0" stroke-width="2.1" stroke-dasharray="5.5 4"/>
<line x1="2001" y1="948.1" x2="2044.8" y2="895.7" stroke="#949494" stroke-width="2.1" stroke-dasharray="5.5 4"/>
<line x1="1960" y1="939.5" x2="1966.7" y2="972.3" stroke="#555" stroke-width="2.1" stroke-dasharray="5.5 4"/>
<line x1="1957.1" y1="782.4" x2="1955.2" y2="822.4" stroke="#555" stroke-width="2.1" stroke-dasharray="5.5 4"/>
<line x1="2021.9" y1="870" x2="2044.8" y2="895.7" stroke="#b0b0b0" stroke-width="2.1" stroke-dasharray="5.5 4"/>
<line x1="1866.7" y1="833.8" x2="1830.5" y2="817.6" stroke="#8e9292" stroke-width="2.6" stroke-linecap="round"/>
<line x1="1866.7" y1="833.8" x2="1893.3" y2="800.5" stroke="#8e9292" stroke-width="2.6" stroke-linecap="round"/>
<line x1="1957.2" y1="760.1" x2="1957.1" y2="782.4" stroke="#8e9292" stroke-width="2.6" stroke-linecap="round"/>
<line x1="1957.2" y1="760.1" x2="1990.5" y2="783.3" stroke="#d8d8d8" stroke-width="2.6" stroke-linecap="round"/>
<line x1="1955.2" y1="822.4" x2="1921.9" y2="855.3" stroke="#8e9292" stroke-width="2.6" stroke-linecap="round"/>
<line x1="2032.4" y1="827.1" x2="2063.8" y2="816.3" stroke="#e8e8e8" stroke-width="5" stroke-linecap="round"/>
<line x1="2032.4" y1="827.1" x2="2004.8" y2="860.5" stroke="#8e9292" stroke-width="2.6" stroke-linecap="round"/>
<line x1="1881.9" y1="900.5" x2="1906.7" y2="935.7" stroke="#c0c0c0" stroke-width="2.6" stroke-linecap="round"/>
<line x1="1958.1" y1="905.2" x2="1919" y2="886.2" stroke="#c8c8c8" stroke-width="2.6" stroke-linecap="round"/>
<line x1="1958.1" y1="905.2" x2="1960" y2="939.5" stroke="#8e9292" stroke-width="2.6" stroke-linecap="round"/>
<line x1="1966.7" y1="972.3" x2="2001" y2="948.1" stroke="#8e9292" stroke-width="2.6" stroke-linecap="round"/>
<line x1="1966.7" y1="972.3" x2="1974.3" y2="1015.7" stroke="#8e9292" stroke-width="2.6" stroke-linecap="round"/>
<circle cx="1957.1" cy="782.4" r="12.4" fill="url(#gH)"/>
<text class="al" x="1957.1" y="785.2">H</text>
<circle cx="1863.8" cy="883.3" r="13" fill="url(#gH)"/>
<text class="al" x="1863.8" y="886.1">H</text>
<circle cx="2021.9" cy="870" r="13" fill="url(#gH)"/>
<text class="al" x="2021.9" y="872.8">H</text>
<circle cx="1830.5" cy="817.6" r="13.3" fill="url(#gH)"/>
<text class="al" x="1830.5" y="820.4">H</text>
<circle cx="1893.3" cy="800.5" r="13.3" fill="url(#gH)"/>
<text class="al" x="1893.3" y="803.3">H</text>
<circle cx="1990.5" cy="783.3" r="13.3" fill="url(#gH)"/>
<text class="al" x="1990.5" y="786.1">H</text>
<circle cx="1921.9" cy="855.3" r="13.7" fill="url(#gH)"/>
<text class="al" x="1921.9" y="858.1">H</text>
<circle cx="2063.8" cy="816.3" r="13.3" fill="url(#gH)"/>
<text class="al" x="2063.8" y="819.1">H</text>
<circle cx="1919" cy="886.2" r="13.7" fill="url(#gH)"/>
<text class="al" x="1919" y="889">H</text>
<circle cx="2004.8" cy="860.5" r="13.7" fill="url(#gH)"/>
<text class="al" x="2004.8" y="863.3">H</text>
<circle cx="1906.7" cy="935.7" r="13.7" fill="url(#gH)"/>
<text class="al" x="1906.7" y="938.5">H</text>
<circle cx="1960" cy="939.5" r="13.3" fill="url(#gH)"/>
<text class="al" x="1960" y="942.3">H</text>
<circle cx="2001" cy="948.1" r="13.7" fill="url(#gH)"/>
<text class="al" x="2001" y="950.9">H</text>
<circle cx="1974.3" cy="1015.7" r="13.3" fill="url(#gH)"/>
<text class="al" x="1974.3" y="1018.5">H</text>
<circle cx="1957.2" cy="760.1" r="18.9" fill="url(#gO)"/>
<text class="al" x="1957.2" y="762.9">O</text>
<circle cx="1866.7" cy="833.8" r="18.7" fill="url(#gO)"/>
<text class="al" x="1866.7" y="836.6">O</text>
<circle cx="1955.2" cy="822.4" r="18.7" fill="url(#gO)"/>
<text class="al" x="1955.2" y="825.2">O</text>
<circle cx="2032.4" cy="827.1" r="18.7" fill="url(#gO)"/>
<text class="al" x="2032.4" y="829.9">O</text>
<circle cx="1881.9" cy="900.5" r="18.7" fill="url(#gO)"/>
<text class="al" x="1881.9" y="903.3">O</text>
<circle cx="1958.1" cy="905.2" r="18.7" fill="url(#gO)"/>
<text class="al" x="1958.1" y="908">O</text>
<circle cx="2044.8" cy="895.7" r="18.7" fill="url(#gO)"/>
<text class="al" x="2044.8" y="898.5">O</text>
<circle cx="1966.7" cy="972.3" r="18.7" fill="url(#gO)"/>
<text class="al" x="1966.7" y="975.1">O</text>
<circle cx="2054.3" cy="871" r="13.3" fill="url(#gH)"/>
<text class="al" x="2054.3" y="873.8">H</text>
</g>
<text id="f1" class="fm" text-anchor="middle" stroke="#000" stroke-width=".9" style="font-size:60.5px" transform="scale(1.0 1)"><tspan x="279.2" y="1330.4">(</tspan><tspan x="307.5" y="1330.4">C</tspan><tspan x="337.8" y="1346.9" style="font-size:40px">2</tspan><tspan x="371.2" y="1330.4">H</tspan><tspan x="403.4" y="1346.9" style="font-size:40px">2</tspan><tspan x="425.2" y="1330.4">)</tspan><tspan x="448.5" y="1346.9" style="font-size:40px">3</tspan><tspan x="476.4" y="1330.4">F</tspan><tspan x="505.8" y="1330.4">e</tspan><tspan x="533.1" y="1330.4">(</tspan><tspan x="565.3" y="1330.4">H</tspan><tspan x="597.4" y="1346.9" style="font-size:40px">2</tspan><tspan x="631.5" y="1330.4">O</tspan><tspan x="663" y="1330.4">)</tspan><tspan x="687" y="1346.9" style="font-size:40px">8</tspan><tspan x="711.5" y="1308.4" style="font-size:33px">+</tspan></text>
<text id="f2" class="fm" text-anchor="middle" stroke="#000" stroke-width=".9" style="font-size:60.5px" transform="scale(1.0 1)"><tspan x="656.3" y="1218.7">(</tspan><tspan x="683.4" y="1218.7">C</tspan><tspan x="712.7" y="1235.2" style="font-size:40px">2</tspan><tspan x="746.5" y="1218.7">H</tspan><tspan x="778.8" y="1235.2" style="font-size:40px">2</tspan><tspan x="799.9" y="1218.7">)</tspan><tspan x="820.9" y="1218.7">-</tspan><tspan x="858.5" y="1218.7">(</tspan><tspan x="885.5" y="1218.7">C</tspan><tspan x="916.4" y="1235.2" style="font-size:40px">4</tspan><tspan x="949.5" y="1218.7">H</tspan><tspan x="984" y="1235.2" style="font-size:40px">4</tspan><tspan x="1004.3" y="1218.7">)</tspan><tspan x="1030.7" y="1218.7">F</tspan><tspan x="1060.7" y="1218.7">e</tspan><tspan x="1087" y="1218.7">(</tspan><tspan x="1120.8" y="1218.7">H</tspan><tspan x="1154.7" y="1235.2" style="font-size:40px">2</tspan><tspan x="1189.2" y="1218.7">O</tspan><tspan x="1220.8" y="1218.7">)</tspan><tspan x="1244.1" y="1235.2" style="font-size:40px">8</tspan><tspan x="1266.7" y="1196.7" style="font-size:33px">+</tspan></text>
<text id="f3" class="fm" text-anchor="middle" stroke="#000" stroke-width=".9" style="font-size:60.5px" transform="scale(1.0 1)"><tspan x="1493.5" y="725.9">(</tspan><tspan x="1520.3" y="725.9">C</tspan><tspan x="1551.2" y="742.4" style="font-size:40px">6</tspan><tspan x="1584.8" y="725.9">H</tspan><tspan x="1617.2" y="742.4" style="font-size:40px">6</tspan><tspan x="1638.2" y="725.9">)</tspan><tspan x="1665.4" y="725.9">F</tspan><tspan x="1695.3" y="725.9">e</tspan><tspan x="1725.2" y="725.9">(</tspan><tspan x="1756.5" y="725.9">H</tspan><tspan x="1789" y="742.4" style="font-size:40px">2</tspan><tspan x="1824.2" y="725.9">O</tspan><tspan x="1856.2" y="725.9">)</tspan><tspan x="1878.2" y="742.4" style="font-size:40px">8</tspan><tspan x="1902.2" y="703.9" style="font-size:33px">+</tspan></text>
</svg></body></html>
